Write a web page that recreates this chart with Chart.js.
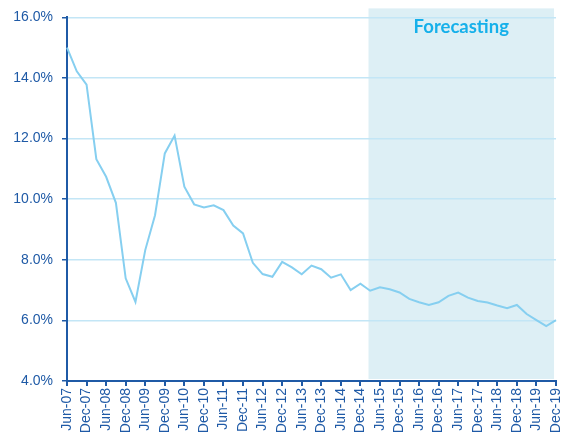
<!DOCTYPE html>
<html>
<head>
<meta charset="utf-8">
<script src="https://cdn.jsdelivr.net/npm/chart.js@4/dist/chart.umd.min.js"></script>
<style>
  html, body { margin: 0; padding: 0; background: #fff; }
  #wrap { width: 566px; height: 439px; }
</style>
</head>
<body>
<div id="wrap"><canvas id="rateChart" width="566" height="439"></canvas></div>
<script>
// quarterly data, a label shown every second quarter
const quarters = [
    'Jun-07', 'Sep-07', 'Dec-07', 'Mar-08', 'Jun-08', 'Sep-08', 'Dec-08', 'Mar-09',
    'Jun-09', 'Sep-09', 'Dec-09', 'Mar-10', 'Jun-10', 'Sep-10', 'Dec-10', 'Mar-11',
    'Jun-11', 'Sep-11', 'Dec-11', 'Mar-12', 'Jun-12', 'Sep-12', 'Dec-12', 'Mar-13',
    'Jun-13', 'Sep-13', 'Dec-13', 'Mar-14', 'Jun-14', 'Sep-14', 'Dec-14', 'Mar-15',
    'Jun-15', 'Sep-15', 'Dec-15', 'Mar-16', 'Jun-16', 'Sep-16', 'Dec-16', 'Mar-17',
    'Jun-17', 'Sep-17', 'Dec-17', 'Mar-18', 'Jun-18', 'Sep-18', 'Dec-18', 'Mar-19',
    'Jun-19', 'Sep-19', 'Dec-19'
];
const rates = [
    15.0, 14.22, 13.78, 11.32, 10.74, 9.88, 7.39, 6.61,
    8.32, 9.47, 11.51, 12.10, 10.41, 9.83, 9.73, 9.80,
    9.64, 9.13, 8.87, 7.90, 7.53, 7.44, 7.93, 7.75,
    7.52, 7.81, 7.69, 7.41, 7.52, 7.00, 7.21, 6.98,
    7.09, 7.03, 6.92, 6.71, 6.60, 6.51, 6.60, 6.81,
    6.92, 6.75, 6.64, 6.59, 6.49, 6.40, 6.51, 6.21,
    6.01, 5.81, 6.01
];
const forecastLabel = 'Forecasting';

const axisBlue = '#1f5aa6';

// hellblauer Bereich für die Prognose
const forecastBox = {
    id: 'forecastBox',
    beforeDraw(chart) {
        const { ctx, scales: { x, y } } = chart;
        const left = x.getPixelForValue(30.83);
        const right = x.getPixelForValue(49.8);
        const top = y.getPixelForValue(16) - 9;
        const bottom = y.bottom - 2;
        ctx.save();
        ctx.fillStyle = '#ddeff5';
        ctx.fillRect(left, top, right - left, bottom - top);
        ctx.fillStyle = '#16b0ea';
        ctx.font = 'bold 18.5px Lato';
        ctx.textAlign = 'center';
        ctx.textBaseline = 'middle';
        ctx.fillText(forecastLabel, (left + right) / 2, 27);
        ctx.restore();
    }
};

const ctx = document.getElementById('rateChart').getContext('2d');
new Chart(ctx, {
    type: 'line',
    data: {
        labels: quarters,
        datasets: [{
            data: rates,
            borderColor: '#86cff0',
            borderWidth: 2,
            pointRadius: 0,
            fill: false,
            tension: 0
        }]
    },
    options: {
        responsive: false,
        animation: false,
        layout: { padding: { top: 17, right: 10, left: 0, bottom: 0 } },
        plugins: {
            legend: { display: false },
            tooltip: { enabled: false }
        },
        scales: {
            x: {
                afterFit: (s) => { s.height = 58; s.paddingRight = 0; s.paddingLeft = 0; },
                border: { color: axisBlue, width: 2 },
                grid: {
                    drawOnChartArea: false,
                    color: axisBlue,
                    tickLength: 5,
                    lineWidth: 2
                },
                ticks: {
                    autoSkip: false,
                    maxRotation: 90,
                    minRotation: 90,
                    padding: 2,
                    color: axisBlue,
                    font: { family: 'Liberation Sans, Arial', size: 14 },
                    callback: (v, i) => (i % 2 === 0 ? quarters[i] : null)
                }
            },
            y: {
                min: 4,
                max: 16,
                afterFit: (s) => { s.width = 67; },
                border: { color: axisBlue, width: 2 },
                grid: {
                    color: '#c3e6f6',
                    tickColor: axisBlue,
                    tickLength: 5,
                    lineWidth: 1.5
                },
                ticks: {
                    stepSize: 2,
                    padding: 9,
                    color: axisBlue,
                    font: { family: 'Liberation Sans, Arial', size: 14 },
                    callback: (v) => v.toFixed(1) + '%'
                }
            }
        }
    },
    plugins: [forecastBox]
});
</script>
</body>
</html>
